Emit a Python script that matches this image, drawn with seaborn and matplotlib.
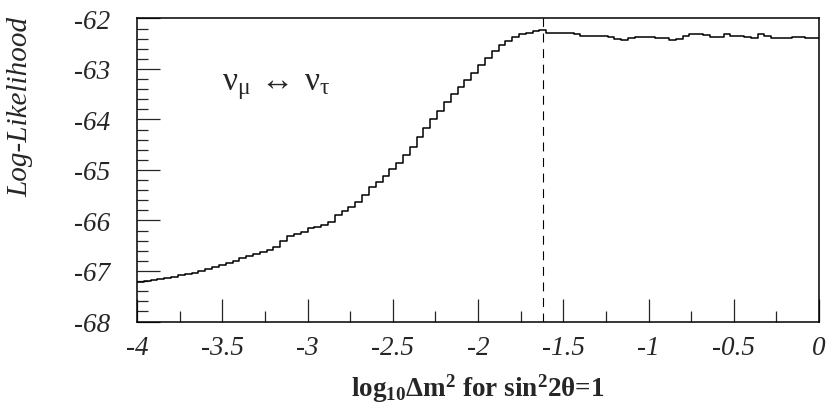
import numpy as np
import pandas as pd
import matplotlib
matplotlib.use("Agg")
import matplotlib.pyplot as plt
import seaborn as sns

# ---- data ----
x_min = -4.0
x_max = 0.0
loglik = [
    -67.22, -67.20, -67.18, -67.15, -67.13, -67.11, -67.08, -67.06, -67.03, -67.00,
    -66.97, -66.93, -66.88, -66.84, -66.80, -66.75, -66.71, -66.66, -66.63, -66.58,
    -66.53, -66.40, -66.31, -66.27, -66.22, -66.15, -66.12, -66.08, -66.02, -65.90,
    -65.81, -65.74, -65.64, -65.50, -65.34, -65.24, -65.11, -64.98, -64.86, -64.70,
    -64.55, -64.35, -64.16, -63.99, -63.83, -63.66, -63.50, -63.36, -63.22, -63.08,
    -62.93, -62.78, -62.64, -62.52, -62.44, -62.36, -62.31, -62.28, -62.25, -62.22,
    -62.29, -62.29, -62.29, -62.29, -62.30, -62.34, -62.34, -62.35, -62.35, -62.37,
    -62.40, -62.42, -62.39, -62.36, -62.36, -62.36, -62.38, -62.39, -62.42, -62.40,
    -62.34, -62.31, -62.31, -62.33, -62.36, -62.36, -62.31, -62.34, -62.35, -62.37,
    -62.38, -62.31, -62.34, -62.38, -62.38, -62.38, -62.37, -62.37, -62.38, -62.38,
]
best_fit = -1.62
y_ticks = [-68, -67, -66, -65, -64, -63, -62]
y_tick_labels = ["-68", "-67", "-66", "-65", "-64", "-63", "-62"]
x_ticks = [-4, -3.5, -3, -2.5, -2, -1.5, -1, -0.5, 0]
x_tick_labels = ["-4", "-3.5", "-3", "-2.5", "-2", "-1.5", "-1", "-0.5", "0"]

# ---- style ----
sns.set_style("ticks")
plt.rcParams["font.family"] = ["Liberation Serif", "DejaVu Serif"]
plt.rcParams["axes.unicode_minus"] = False
plt.rcParams["mathtext.fontset"] = "custom"
plt.rcParams["mathtext.rm"] = "Liberation Serif"
plt.rcParams["mathtext.it"] = "Liberation Serif:italic"
plt.rcParams["mathtext.bf"] = "Liberation Serif:bold"

fig = plt.figure(figsize=(8.29, 4.14), dpi=100)
ax = fig.add_axes([0.1653, 0.221, 0.988 - 0.1653, 0.953 - 0.221])

edges = np.linspace(x_min, x_max, len(loglik) + 1)
df = pd.DataFrame({"x": edges, "y": loglik + [loglik[-1]]})
sns.lineplot(data=df, x="x", y="y", ax=ax, color="black", lw=1.1,
             drawstyle="steps-post", estimator=None, sort=True)

ax.axvline(best_fit, color="black", lw=0.8, linestyle=(0, (8, 6)))

ax.set_xlim(x_min, x_max)
ax.set_ylim(-68, -62)

ax.set_xticks(x_ticks)
ax.set_xticklabels(x_tick_labels, fontsize=19.5, fontstyle="italic")
ax.set_xticks(np.arange(-4, 0.001, 0.25), minor=True)
ax.set_yticks(y_ticks)
ax.set_yticklabels(y_tick_labels, fontsize=19.5, fontstyle="italic")
ax.set_yticks(np.arange(-68, -61.99, 0.2), minor=True)

ax.tick_params(which="major", direction="in", length=16.5, width=0.9,
               top=False, right=False, pad=10)
ax.tick_params(axis="y", which="major", pad=19)
ax.tick_params(which="minor", direction="in", length=8, width=0.9,
               top=False, right=False)

for s in ax.spines.values():
    s.set_visible(True)
    s.set_linewidth(1.1)
    s.set_color("black")

ax.set_xlabel(r"$\mathbf{log_{10}\Delta m^{2}}$ for sin$\mathbf{{}^{2}}$2θ=1",
              fontsize=19.5, fontweight="bold", labelpad=8)
ax.set_ylabel("Log-Likelihood", fontsize=21, fontstyle="italic", loc="top")
ax.yaxis.set_label_coords(-0.152, 1.01)

ax.text(-3.5, -63.4, r"$\mathrm{\nu_{\mu}\:\leftrightarrow\:\nu_{\tau}}$",
        fontsize=24, ha="left", va="baseline")

fig.savefig("out.png", dpi=100)
